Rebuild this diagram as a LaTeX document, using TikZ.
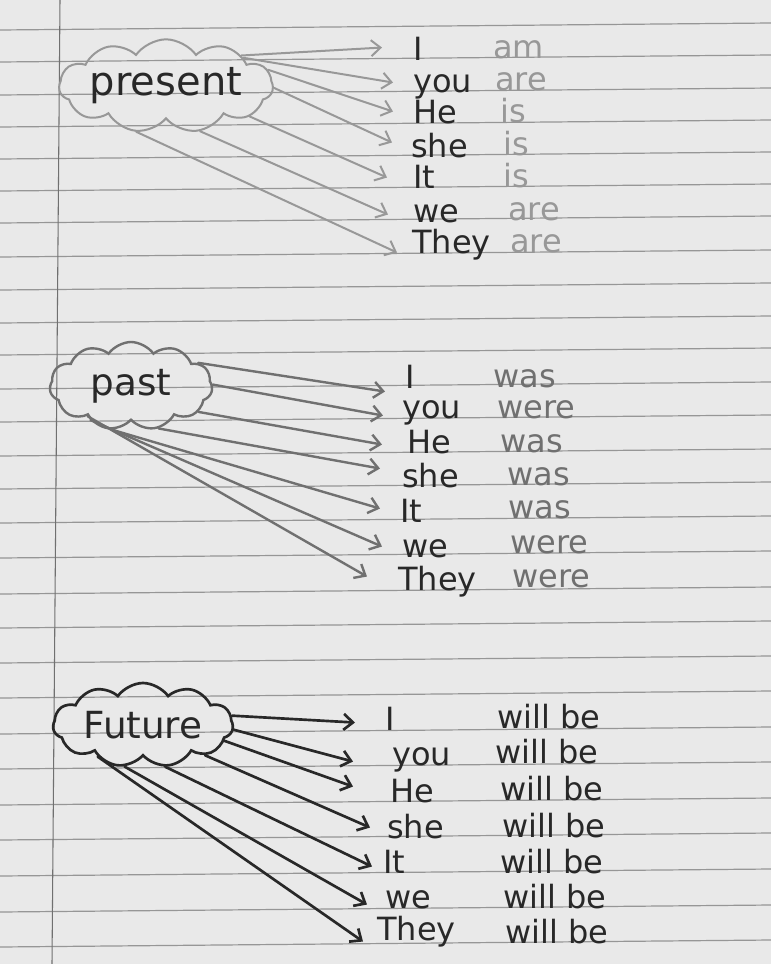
\documentclass[tikz,border=0pt]{standalone}
\usepackage{fontspec}
\setmainfont{DejaVu Sans}
\usetikzlibrary{shapes.symbols,arrows.meta}
\definecolor{paper}{RGB}{233,233,233}
\definecolor{rule}{RGB}{150,150,150}
\definecolor{ink}{RGB}{40,40,40}
\definecolor{pencil}{RGB}{152,152,152}
\definecolor{graphite}{RGB}{112,112,112}
\begin{document}
\begin{tikzpicture}[x=0.75pt,y=0.75pt,yscale=-1,xscale=1,
  word/.style={anchor=base west,inner sep=0pt,text height=0.68em,text depth=0.16em,font=\fontsize{24}{24}\selectfont,text=ink},
  bubble/.style={cloud,cloud puffs=11,cloud puff arc=110,cloud ignores aspect,inner sep=0pt,font=\fontsize{28}{28}\selectfont,text=ink},
  tense/.style={-{Straight Barb[length=7pt,width=12pt]},line cap=round}]
\useasboundingbox (0,0) rectangle (771,964);
\fill[paper] (0,0) rectangle (771,964);
\foreach \y in {23,55,88,120,152,184,216,250,283,316,348,382,415,449,482,516,551,587,621,656,691,727,762,798,833,869,905,940}
  \draw[rule,line width=0.9pt] (0,{\y+7}) -- (771,\y);
\draw[rule!75!black,line width=0.8pt] (60,0) -- (52,964);

\node[bubble,draw=pencil,line width=1.5pt,minimum width=159pt,minimum height=70pt,font=\fontsize{30}{30}\selectfont] (present) at (166,86) {present};
\node[word] (prI) at (413,60) {I};
\node[word] (prYou) at (413,92) {you};
\node[word] (prHe) at (413,123) {He};
\node[word] (prShe) at (411,157) {she};
\node[word] (prIt) at (413,188) {It};
\node[word] (prWe) at (413,222) {we};
\node[word] (prThey) at (412,253) {They};
\node[word,text=pencil] (prAm) at (493,58) {am};
\node[word,text=pencil] (prAre) at (495,90) {are};
\node[word,text=pencil] (prIsHe) at (500,122) {is};
\node[word,text=pencil] (prIsShe) at (503,155) {is};
\node[word,text=pencil] (prIsIt) at (503,187) {is};
\node[word,text=pencil] (prAreWe) at (508,220) {are};
\node[word,text=pencil] (prAreThey) at (510,252) {are};
\draw[tense,pencil,line width=1.5pt] (present.22) -- ([shift={(-31,-9)}]prI.west);
\draw[tense,pencil,line width=1.5pt] (present.20) -- ([shift={(-20,-6)}]prYou.west);
\draw[tense,pencil,line width=1.5pt] (present.9) -- ([shift={(-20,-8)}]prHe.west);
\draw[tense,pencil,line width=1.5pt] (present.-1) -- ([shift={(-19,-11)}]prShe.west);
\draw[tense,pencil,line width=1.5pt] (present.-20) -- ([shift={(-26,-7)}]prIt.west);
\draw[tense,pencil,line width=1.5pt] (present.-53) -- ([shift={(-25,-4)}]prWe.west);
\draw[tense,pencil,line width=1.5pt] (present.-123) -- ([shift={(-15,3)}]prThey.west);

\node[bubble,draw=graphite,line width=1.8pt,minimum width=122pt,minimum height=66pt] (past) at (131,386) {past};
\node[word] (paI) at (405,388) {I};
\node[word] (paYou) at (402,418) {you};
\node[word] (paHe) at (407,453) {He};
\node[word] (paShe) at (402,487) {she};
\node[word] (paIt) at (400,522) {It};
\node[word] (paWe) at (402,557) {we};
\node[word] (paThey) at (398,590) {They};
\node[word,text=graphite] (paWasI) at (493,387) {was};
\node[word,text=graphite] (paWereYou) at (497,418) {were};
\node[word,text=graphite] (paWasHe) at (500,452) {was};
\node[word,text=graphite] (paWasShe) at (507,485) {was};
\node[word,text=graphite] (paWasIt) at (508,518) {was};
\node[word,text=graphite] (paWereWe) at (510,553) {were};
\node[word,text=graphite] (paWereThey) at (512,587) {were};
\draw[tense,graphite,line width=1.8pt] (past.19) -- ([shift={(-20,7)}]paI.west);
\draw[tense,graphite,line width=1.8pt] (past.1) -- ([shift={(-19,1)}]paYou.west);
\draw[tense,graphite,line width=1.8pt] (past.-21) -- ([shift={(-25,-5)}]paHe.west);
\draw[tense,graphite,line width=1.8pt] (past.-57) -- ([shift={(-22,-15)}]paShe.west);
\draw[tense,graphite,line width=1.8pt] (past.-114) -- ([shift={(-20,-10)}]paIt.west);
\draw[tense,graphite,line width=1.8pt] (past.-140) -- ([shift={(-20,-7)}]paWe.west);
\draw[tense,graphite,line width=1.8pt] (past.-145) -- ([shift={(-31,-10)}]paThey.west);

\node[bubble,draw=ink,line width=2pt,minimum width=135pt,minimum height=63pt] (future) at (143,725) {Future};
\node[word] (fuI) at (385,730) {I};
\node[word] (fuYou) at (392,765) {you};
\node[word] (fuHe) at (390,802) {He};
\node[word] (fuShe) at (387,838) {she};
\node[word] (fuIt) at (383,873) {It};
\node[word] (fuWe) at (385,908) {we};
\node[word] (fuThey) at (377,940) {They};
\node[word] (fuWillI) at (497,728) {will be};
\node[word] (fuWillYou) at (495,763) {will be};
\node[word] (fuWillHe) at (500,800) {will be};
\node[word] (fuWillShe) at (502,837) {will be};
\node[word] (fuWillIt) at (500,873) {will be};
\node[word] (fuWillWe) at (503,908) {will be};
\node[word] (fuWillThey) at (505,943) {will be};
\draw[tense,ink,line width=2pt] (future.6) -- ([shift={(-30,-4)}]fuI.west);
\draw[tense,ink,line width=2pt] (future.-3) -- ([shift={(-39,0)}]fuYou.west);
\draw[tense,ink,line width=2pt] (future.-11) -- ([shift={(-37,-12)}]fuHe.west);
\draw[tense,ink,line width=2pt] (future.-26) -- ([shift={(-17,-7)}]fuShe.west);
\draw[tense,ink,line width=2pt] (future.-62) -- ([shift={(-11,-3)}]fuIt.west);
\draw[tense,ink,line width=2pt] (future.-114) -- ([shift={(-18,0)}]fuWe.west);
\draw[tense,ink,line width=2pt] (future.-145) -- ([shift={(-14,5)}]fuThey.west);
\end{tikzpicture}
\end{document}
